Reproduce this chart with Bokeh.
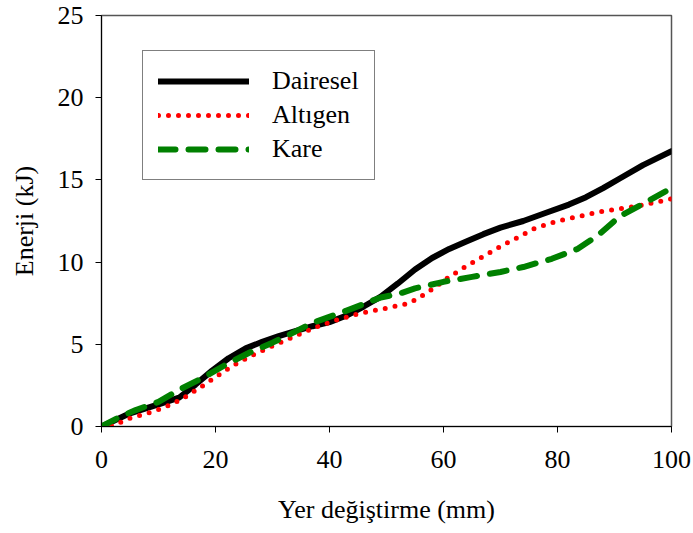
from bokeh.plotting import figure
from bokeh.models import Range1d, Legend, LegendItem, FixedTicker
from bokeh.embed import file_html
from bokeh.resources import INLINE

# Data
dairesel_x = [0, 5, 10, 13.6, 16.5, 19.4, 22.3, 25.3, 28.2, 31.1, 34, 37, 40, 43, 46, 49, 52, 55, 58, 61, 64, 67, 70, 74, 78, 82, 85, 88, 91, 95, 100]
dairesel_y = [0, 0.8, 1.35, 1.75, 2.55, 3.4, 4.15, 4.75, 5.15, 5.5, 5.8, 6.1, 6.35, 6.75, 7.3, 7.9, 8.7, 9.55, 10.25, 10.8, 11.25, 11.7, 12.1, 12.5, 13.0, 13.5, 13.95, 14.5, 15.1, 15.9, 16.75]

altigen_x = [0, 2, 5, 8, 11, 14, 17, 20, 23, 26, 29, 32, 35, 38, 41, 45, 50, 54, 56, 58, 61, 64, 67, 70, 73, 76, 80, 84, 88, 94, 100]
altigen_y = [0, 0.05, 0.5, 0.8, 1.15, 1.65, 2.3, 3.0, 3.7, 4.25, 4.75, 5.2, 5.65, 6.1, 6.45, 6.85, 7.2, 7.5, 7.9, 8.35, 9.1, 9.75, 10.35, 10.95, 11.5, 12.05, 12.5, 12.8, 13.1, 13.4, 13.85]

kare_x = [0, 3, 6, 10, 14, 18, 22, 26, 30, 33, 37, 43, 49, 52, 55, 60, 65, 70, 74, 79, 83.5, 87, 91, 95, 100]
kare_y = [0, 0.55, 1.0, 1.5, 2.3, 3.0, 3.8, 4.5, 5.1, 5.6, 6.3, 7.05, 7.85, 8.05, 8.4, 8.8, 9.1, 9.4, 9.7, 10.2, 10.8, 11.6, 12.8, 13.55, 14.5]

x_ticks = [0, 20, 40, 60, 80, 100]
y_ticks = [0, 5, 10, 15, 20, 25]
series_names = ["Dairesel", "Altıgen", "Kare"]

FONT = "Liberation Serif"

p = figure(width=693, height=533, output_backend="svg", toolbar_location=None,
           x_range=Range1d(0, 100), y_range=Range1d(0, 25),
           min_border_left=101, min_border_right=22, min_border_top=15, min_border_bottom=107)
p.background_fill_color = "white"
p.border_fill_color = "white"
p.grid.visible = False
p.outline_line_color = "#555555"
p.outline_line_width = 1.5

r1 = p.line(dairesel_x, dairesel_y, line_color="black", line_width=6, line_join="round", line_cap="round")
r2 = p.line(altigen_x, altigen_y, line_color="red", line_width=5, line_dash="0 10", line_cap="round", line_join="round")
r3 = p.line(kare_x, kare_y, line_color="green", line_width=6, line_dash="17 13", line_cap="round", line_join="round")

for ax in (p.xaxis, p.yaxis):
    ax.axis_line_color = "black"
    ax.axis_line_width = 1
    ax.major_tick_line_color = "black"
    ax.major_tick_out = 6
    ax.major_tick_in = 0
    ax.minor_tick_line_color = None
    ax.major_label_text_font = FONT
    ax.major_label_text_font_size = "26px"
    ax.major_label_text_color = "black"
    ax.axis_label_text_font = FONT
    ax.axis_label_text_font_size = "26px"
    ax.axis_label_text_font_style = "normal"
    ax.axis_label_text_color = "black"

p.xaxis.ticker = FixedTicker(ticks=x_ticks)
p.yaxis.ticker = FixedTicker(ticks=y_ticks)
p.xaxis.major_label_standoff = 18
p.yaxis.major_label_standoff = 12
p.xaxis.axis_label = "Yer değiştirme (mm)"
p.yaxis.axis_label = "Enerji (kJ)"
p.xaxis.axis_label_standoff = 24
p.yaxis.axis_label_standoff = 16

legend = Legend(items=[LegendItem(label=series_names[0], renderers=[r1]),
                       LegendItem(label=series_names[1], renderers=[r2]),
                       LegendItem(label=series_names[2], renderers=[r3])],
                location=(41, 246))
legend.label_text_font = FONT
legend.label_text_font_size = "26px"
legend.label_text_color = "black"
legend.border_line_color = "black"
legend.border_line_width = 1
legend.background_fill_color = "white"
legend.background_fill_alpha = 1
legend.glyph_width = 91
legend.glyph_height = 30
legend.label_height = 30
legend.spacing = 4
legend.padding = 15
legend.margin = 0
legend.label_standoff = 23
p.add_layout(legend, "center")

open("out.html", "w").write(file_html(p, INLINE))
